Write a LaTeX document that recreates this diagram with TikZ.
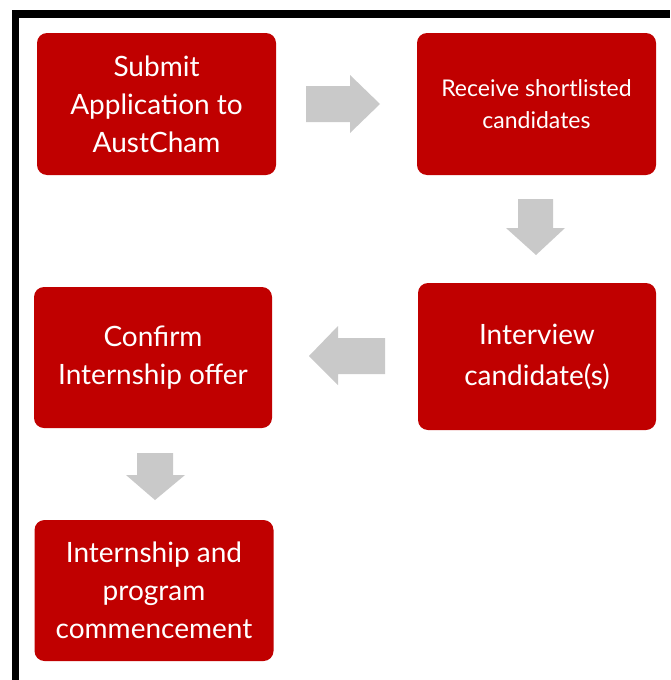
\documentclass[tikz,border=0pt]{standalone}
\usepackage{fontspec}
\setmainfont{Lato}
\definecolor{boxred}{HTML}{C00000}
\definecolor{arrgray}{HTML}{C9C9C9}
\begin{document}
\begin{tikzpicture}[x=1pt,y=-1pt,
  stepbox/.style={fill=boxred,rounded corners=10pt,text=white,align=center,inner sep=0pt},
  big/.style={font=\fontsize{28}{38}\selectfont},
  bigw/.style={font=\fontsize{28}{41}\selectfont},
  small/.style={font=\fontsize{23}{32}\selectfont},
  garrow/.style={fill=arrgray,draw=none}]
\useasboundingbox (0,0) rectangle (670,680);
\fill[white] (0,0) rectangle (670,680);
% frame
\fill[black] (12,10) rectangle (670,18);
\fill[black] (12,10) rectangle (19,680);
% boxes
\node[stepbox,big,minimum width=239pt,minimum height=142pt] (b1) at (156.5,104) {Submit\\Application to\\AustCham};
\node[stepbox,small,minimum width=239pt,minimum height=142pt] (b2) at (536.5,104) {Receive shortlisted\\candidates};
\node[stepbox,bigw,minimum width=238pt,minimum height=147pt] (b3) at (537,356.5) {Interview\\candidate(s)};
\node[stepbox,big,minimum width=238pt,minimum height=141pt] (b4) at (153,357.5) {Confirm\\Internship offer};
\node[stepbox,big,minimum width=239pt,minimum height=141pt] (b5) at (154,590.5) {Internship and\\program\\commencement};
% arrows
\fill[garrow] (306,86) -- (350,86) -- (350,75) -- (380,104) -- (350,133) -- (350,122) -- (306,122) -- cycle;
\fill[garrow] (518,199) -- (553,199) -- (553,228) -- (565,228) -- (536,255) -- (506,228) -- (518,228) -- cycle;
\fill[garrow] (385,338) -- (338,338) -- (338,326) -- (309,356) -- (338,385) -- (338,374) -- (385,374) -- cycle;
\fill[garrow] (137,453) -- (173,453) -- (173,475) -- (185,475) -- (155,500) -- (126,475) -- (137,475) -- cycle;
\end{tikzpicture}
\end{document}
